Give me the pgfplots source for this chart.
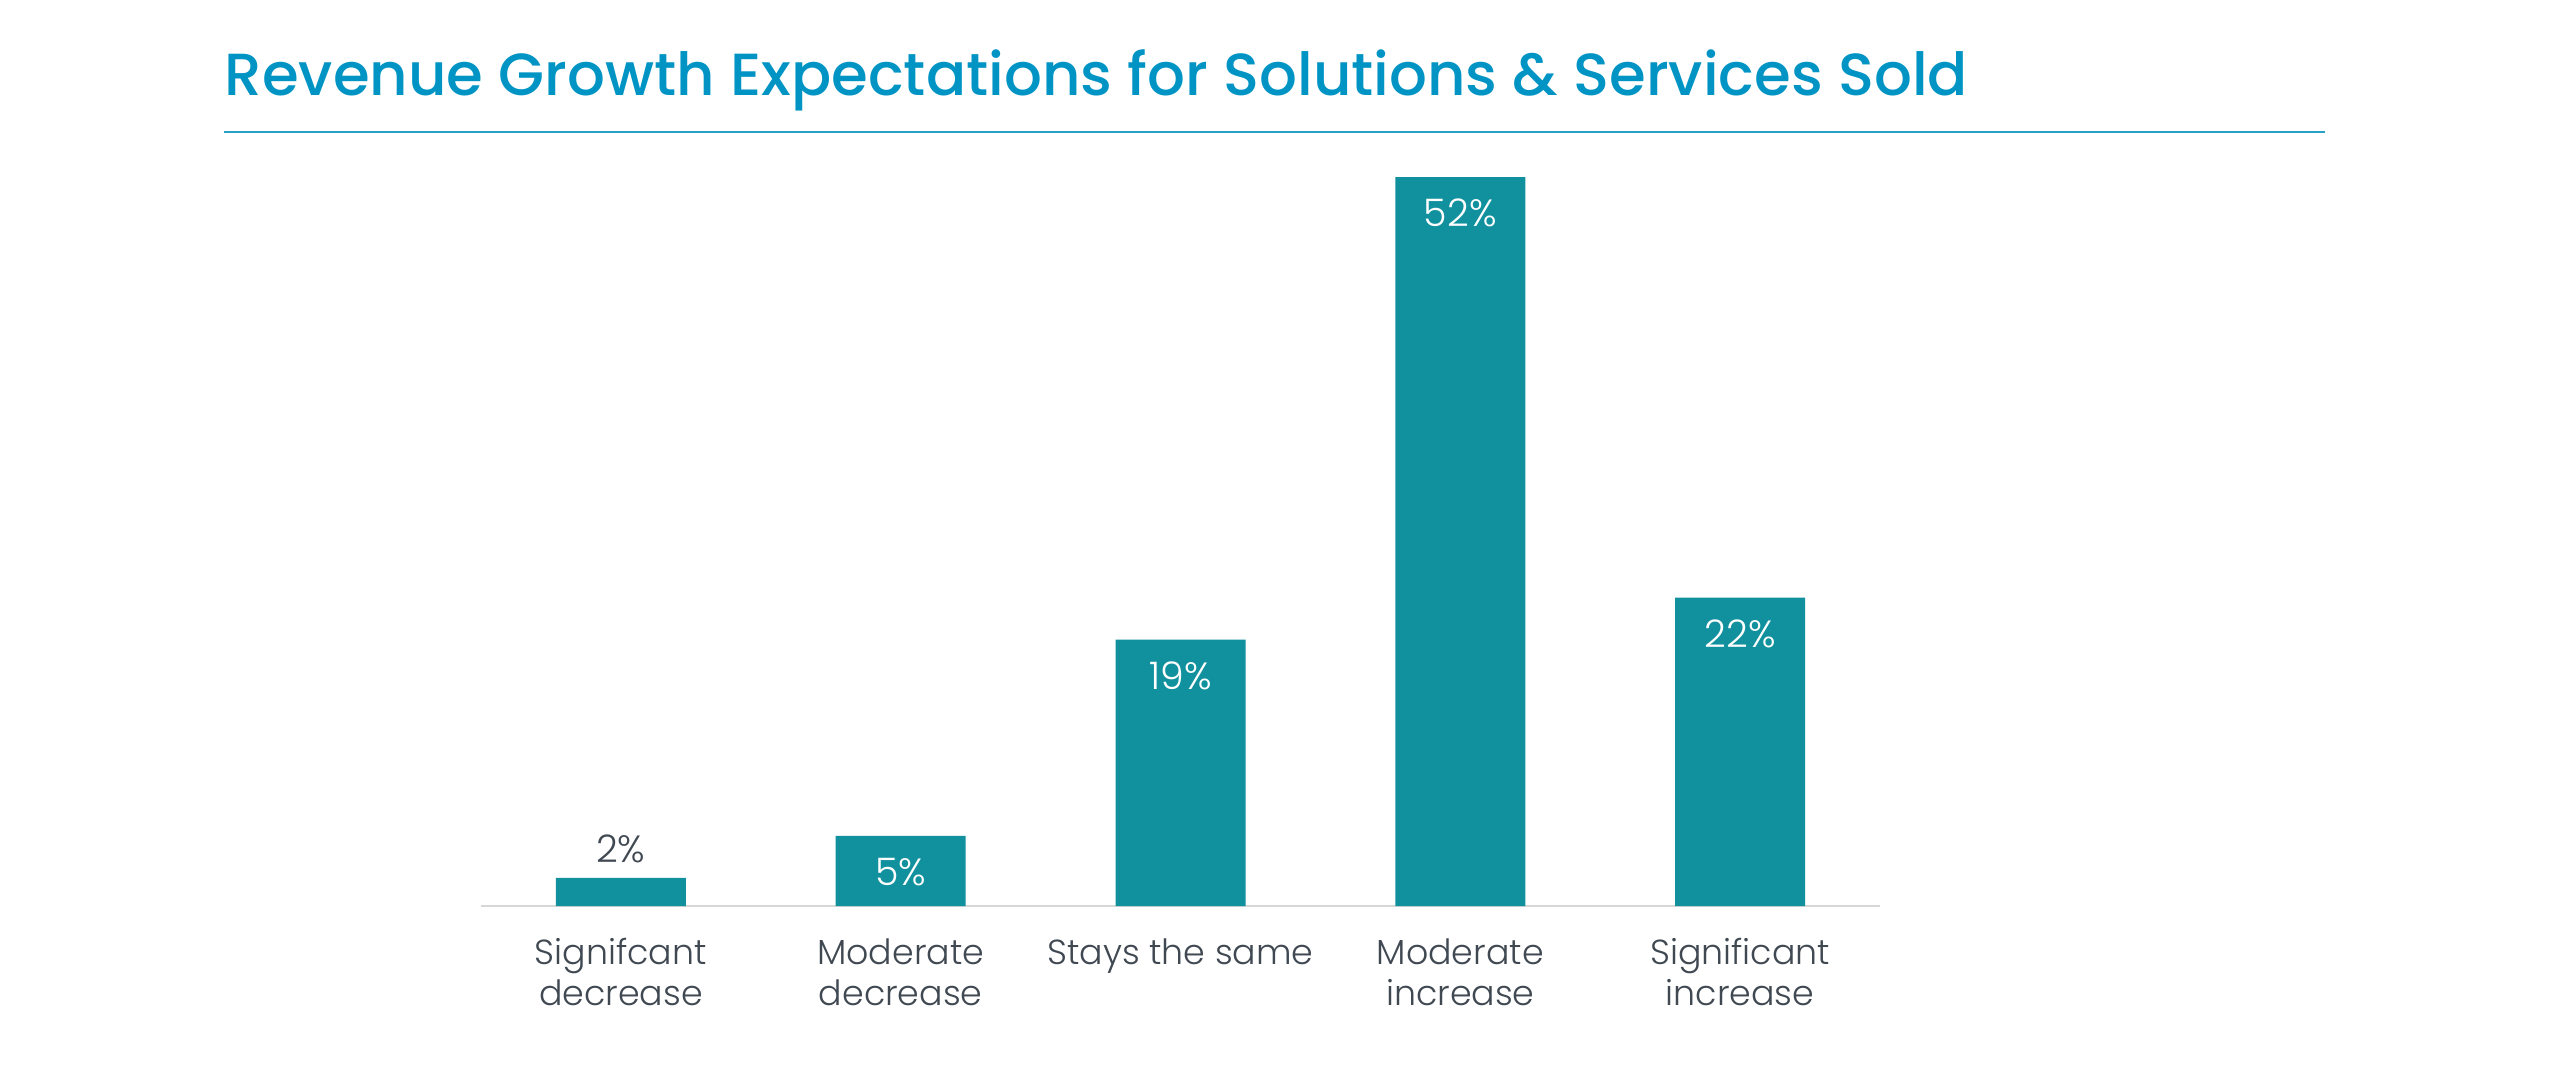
\documentclass[border=0pt]{standalone}
\usepackage{pgfplots}
\pgfplotsset{compat=1.18}
\usepackage{fontspec}
\setmainfont{Poppins Light}
\newfontfamily\titlefont{Poppins Medium}
\newfontfamily\lightfont{Poppins Light}
\definecolor{barc}{RGB}{17,145,158}
\definecolor{titlec}{RGB}{0,148,196}
\definecolor{rulec}{RGB}{41,160,200}
\definecolor{axisc}{RGB}{215,215,215}
\definecolor{textc}{RGB}{64,72,82}
\begin{document}
\begin{tikzpicture}[x=1cm,y=1cm]
\useasboundingbox (0,0) rectangle (25.5,10.88);
\node[anchor=base west, inner sep=0, text=titlec, font=\titlefont\fontsize{16.9}{20}\selectfont] at (2.24,9.92) {Revenue Growth Expectations for Solutions \& Services Sold};
\draw[rulec, line width=0.7pt] (2.24,9.56) -- (23.25,9.56);
\begin{axis}[
  at={(4.81cm,1.82cm)}, anchor=south west,
  scale only axis, width=13.99cm, height=8.41cm,
  xmin=-0.5, xmax=4.5, ymin=0, ymax=60,
  axis x line=bottom, axis y line=none,
  axis line style={-, draw=axisc, line width=0.7pt},
  xtick={0,1,2,3,4}, xtick style={draw=none},
  xticklabels={{Signifcant\\decrease},{Moderate\\decrease},{Stays the same},{Moderate\\increase},{Significant\\increase}},
  xticklabel style={anchor=north, inner sep=0pt, yshift=-6.9pt, align=center, text=textc, font=\lightfont\fontsize{9.9}{11.7}\selectfont},
  ytick=\empty,
  clip=false,
]
\addplot[ybar, bar width=1.3cm, fill=barc, draw=none] coordinates {(0,2) (1,5) (2,19) (3,52) (4,22)};
\addplot[draw=none, mark=none, nodes near coords={\lightfont\pgfmathprintnumber[assume math mode=true]{\pgfplotspointmeta}\%},
  nodes near coords style={anchor=center, yshift=-0.36cm, text=white, font=\lightfont\fontsize{10.8}{13}\selectfont}]
  coordinates {(1,5) (2,19) (3,52) (4,22)};
\addplot[draw=none, mark=none, nodes near coords={\lightfont\pgfmathprintnumber[assume math mode=true]{\pgfplotspointmeta}\%},
  nodes near coords style={anchor=center, yshift=0.29cm, text=textc, font=\lightfont\fontsize{10.8}{13}\selectfont}]
  coordinates {(0,2)};
\end{axis}
\end{tikzpicture}
\end{document}
